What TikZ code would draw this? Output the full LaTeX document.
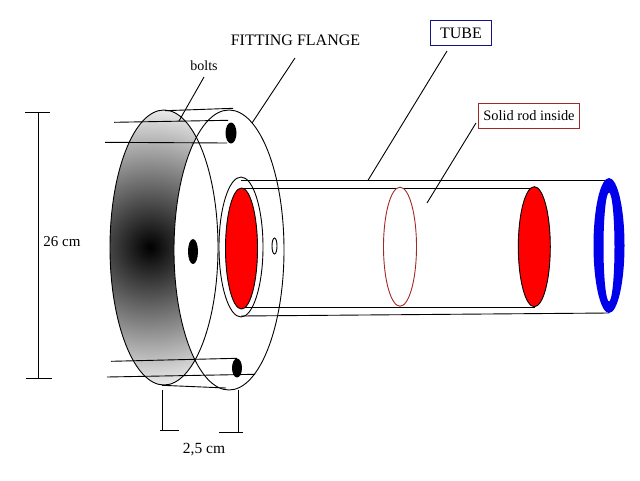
\documentclass[tikz,border=0pt]{standalone}
\usepackage{fontspec}
\setmainfont{Liberation Serif}
\tikzset{
  label/.style={font=\fontsize{14}{16}\selectfont, inner sep=0pt},
  labelbox/.style={label, draw, line width=1pt, minimum height=25pt},
  line/.style={draw=black, line width=0.9pt},
}
\definecolor{rodred}{RGB}{255,0,0}
\definecolor{edgered}{RGB}{165,40,40}
\definecolor{boxblue}{RGB}{20,20,130}
\definecolor{ringblue}{RGB}{0,0,235}
\begin{document}
\begin{tikzpicture}[x=1pt,y=-1pt]
        \useasboundingbox[fill=white] (0,0) rectangle (640,480);

        % Back disc with the dark shade
        \begin{scope}
          \clip (164,247.5) ellipse (54 and 137.5);
          \shade[inner color=black, outer color=white] (150,247) circle (150);
        \end{scope}
        \fill[white] (229,250) ellipse (55 and 140);
        \draw[line] (164,247.5) ellipse (54 and 137.5);
        \draw[line] (229,250) ellipse (55 and 140);

        % Bolts
        \fill[black] (231,133) ellipse (5.5 and 10.5);
        \fill[black] (193,251.5) ellipse (5 and 12.5);
        \fill[black] (237,368) ellipse (5 and 9.5);

        \draw[line] (165,110.7) -- (233,108.3);
        \draw[line] (114,122.3) -- (228,120.3);
        \draw[line] (105,142.3) -- (227,143);
        \draw[line] (111,361.3) -- (237,358.3);
        \draw[line] (107,377) -- (255,374.3);
        \draw[line] (162,385.3) -- (226,388);

        % Tube
        \draw[line] (241,247) ellipse (22 and 70);
        \draw[line] (241,180.3) -- (609,180.3);
        \draw[line] (241,316) -- (609,313);
        \draw[line] (241,188.3) -- (535,188.3);
        \draw[line] (241,307.3) -- (535,307.3);
        \draw[line, fill=white] (274.5,246) ellipse (2.5 and 8);

        % Solid rod
        \draw[line, fill=rodred] (241.5,248.5) ellipse (16 and 60.5);
        \draw[line width=0.9pt, draw=edgered, fill=white] (400,246.7) ellipse (16.5 and 59.5);
        \draw[line, fill=rodred] (534.3,246.7) ellipse (16 and 60);

        % Tube end
        \fill[ringblue, even odd rule] (609,245.5) ellipse (15.5 and 67.5)
            (609,247) ellipse (5.5 and 54.5);

        % Labels
        \node[label, font=\fontsize{16}{18}\selectfont] (flangetext) at (295.5,40) {FITTING FLANGE};
        \node[label, font=\fontsize{14}{16}\selectfont] (boltstext) at (204,66) {bolts};
        \node[labelbox, draw=boxblue, minimum width=61pt, font=\fontsize{16}{18}\selectfont] (tubebox) at (461,33) {TUBE};
        \node[labelbox, draw=edgered, minimum width=101pt, font=\fontsize{14.4}{16}\selectfont] (rodbox) at (529,116) {Solid rod inside\hspace{6pt}};
        \node[label, font=\fontsize{15}{17}\selectfont] (heighttext) at (62,242) {26 cm};
        \node[label, font=\fontsize{15.5}{17}\selectfont] (widthtext) at (204,450) {2,5 cm};

        % Leader lines
        \coordinate (flangestart) at (295,58);
        \coordinate (flangeend) at (252,123);
        \coordinate (boltsstart) at (204,77);
        \coordinate (boltsend) at (179,121);
        \coordinate (tubestart) at (447,51);
        \coordinate (tubeend) at (368,180.3);
        \coordinate (rodstart) at (476,123);
        \coordinate (rodend) at (427,203);
        \draw[line] (flangestart) -- (flangeend);
        \draw[line] (boltsstart) -- (boltsend);
        \draw[line] (tubestart) -- (tubeend);
        \draw[line] (rodstart) -- (rodend);

        % Mark the height
        \draw[line] (38,112) -- (38,378);
        \draw[line] (25,112) -- (50,112);
        \draw[line] (26,378) -- (52,378);

        % Mark the width
        \draw[line] (162.3,390) -- (162.3,430.3);
        \draw[line] (160,430.3) -- (179,430.3);
        \draw[line] (238.3,390) -- (238.3,432.3);
        \draw[line] (219,432.3) -- (243,432.3);
\end{tikzpicture}
\end{document}
